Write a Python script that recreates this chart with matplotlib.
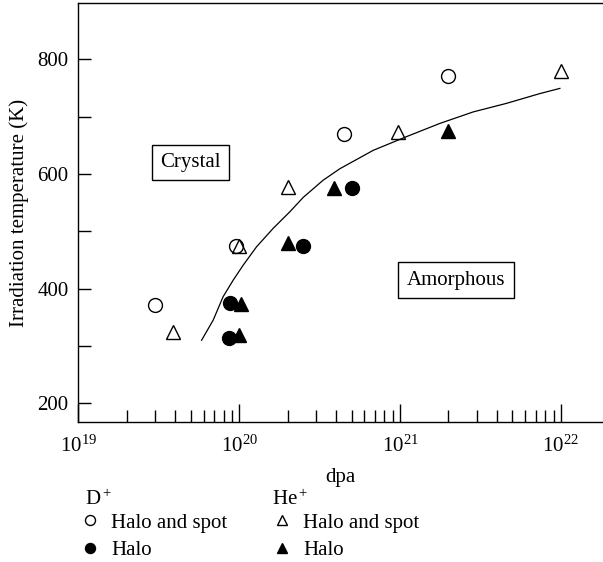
import matplotlib
matplotlib.use("Agg")
import matplotlib.pyplot as plt
import numpy as np
from matplotlib.ticker import LogLocator, LogFormatterMathtext, FixedLocator

plt.rcParams['font.family'] = 'Liberation Serif'
plt.rcParams['mathtext.fontset'] = 'custom'
plt.rcParams['mathtext.rm'] = 'Liberation Serif'
plt.rcParams['mathtext.it'] = 'Liberation Serif:italic'
plt.rcParams['font.size'] = 15

# D+ halo and spot (open circles)
d_spot_dpa = [3.0e19, 9.5e19, 4.5e20, 2.0e21]
d_spot_T = [371, 474, 669, 770]
# D+ halo (filled circles)
d_halo_dpa = [8.8e19, 8.6e19, 2.5e20, 5.0e20]
d_halo_T = [375, 314, 474, 575]
# He+ halo and spot (open triangles)
he_spot_dpa = [3.9e19, 1.0e20, 2.0e20, 9.7e20, 1.0e22]
he_spot_T = [325, 475, 577, 673, 779]
# He+ halo (filled triangles)
he_halo_dpa = [1.03e20, 1.0e20, 2.0e20, 3.9e20, 2.0e21]
he_halo_T = [373, 320, 479, 576, 675]

# boundary curve (log10 of dpa)
curve_logdpa = [19.766, 19.838, 19.900, 19.963, 20.025, 20.108, 20.211,
                20.315, 20.398, 20.522, 20.626, 20.833, 21.041, 21.248,
                21.455, 21.663, 21.870, 21.994]
curve_T = [310, 345, 386, 415, 441, 473, 505, 534, 559, 589, 609, 641,
           665, 688, 708, 723, 740, 749]

fig = plt.figure(figsize=(6.03, 5.62), dpi=100)
ax = fig.add_axes([0.130, 0.2496, 0.870, 0.7442])

ax.plot(10 ** np.array(curve_logdpa), curve_T, color='black', lw=0.9)

h1, = ax.plot(d_spot_dpa, d_spot_T, 'o', ms=10, mfc='none', mec='black', mew=1.0, ls='none')
h2, = ax.plot(d_halo_dpa, d_halo_T, 'o', ms=10, mfc='black', mec='black', ls='none')
h3, = ax.plot(he_spot_dpa, he_spot_T, '^', ms=10.5, mfc='none', mec='black', mew=1.0, ls='none')
h4, = ax.plot(he_halo_dpa, he_halo_T, '^', ms=10.5, mfc='black', mec='black', ls='none')

ax.set_xscale('log')
ax.set_xlim(1e19, 10 ** 22.262)
ax.set_ylim(168, 897)

ax.xaxis.set_major_locator(LogLocator(base=10, numticks=10))
ax.xaxis.set_major_formatter(LogFormatterMathtext())
ax.xaxis.set_minor_locator(LogLocator(base=10, subs=np.arange(2, 10), numticks=10))
ax.tick_params(axis='x', which='major', direction='in', length=13, width=1, pad=10)
ax.tick_params(axis='x', which='minor', direction='in', length=8.4, width=1)

ax.yaxis.set_major_locator(FixedLocator([200, 400, 600, 800]))
ax.yaxis.set_minor_locator(FixedLocator([300, 500, 700]))
ax.tick_params(axis='y', which='both', direction='in', length=9.5, width=1, pad=7)

for side in ['left', 'bottom', 'top']:
    ax.spines[side].set_linewidth(1.0)
ax.spines['right'].set_visible(False)

ax.set_xlabel('dpa', labelpad=8)
ax.set_ylabel('Irradiation temperature (K)', labelpad=6)

box = dict(boxstyle='square,pad=0.4', fc='white', ec='black', lw=1)
ax.text(5.0e19, 620, 'Crystal', ha='center', va='center', bbox=box)
ax.text(2.23e21, 415, 'Amorphous', ha='center', va='center', bbox=box)

# legend: two groups, each with its own heading
fig.text(85 / 603, 1 - 505 / 562, 'D$^+$', va='baseline', ha='left')
fig.text(272 / 603, 1 - 505 / 562, 'He$^+$', va='baseline', ha='left')
common = dict(loc='upper left', bbox_transform=fig.transFigure, frameon=False,
              markerscale=0.72, handlelength=0.6, handletextpad=0.7,
              labelspacing=0.37, borderpad=0, borderaxespad=0)
leg1 = ax.legend([h1, h2], ['Halo and spot', 'Halo'],
                 bbox_to_anchor=(84 / 603, 1 - 513 / 562), **common)
ax.add_artist(leg1)
leg2 = ax.legend([h3, h4], ['Halo and spot', 'Halo'],
                 bbox_to_anchor=(276 / 603, 1 - 513 / 562), **common)

fig.savefig('out.png', dpi=100)
